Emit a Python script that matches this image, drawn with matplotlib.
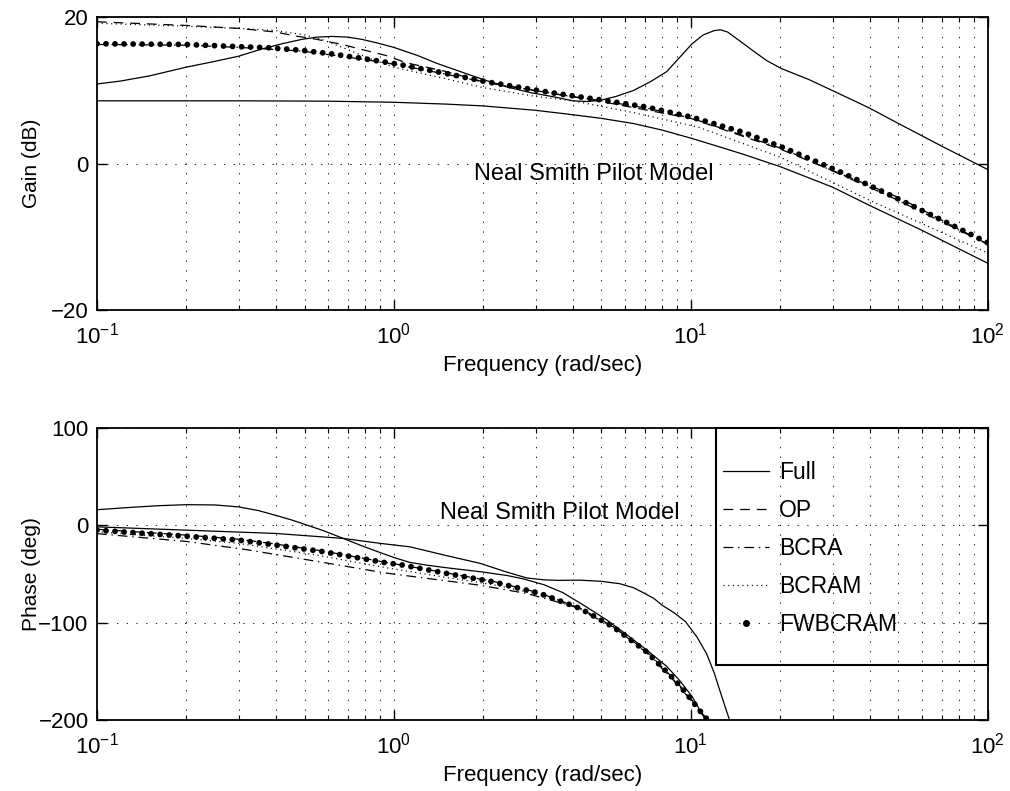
import numpy as np
import matplotlib
matplotlib.use('Agg')
import matplotlib.pyplot as plt
from matplotlib.lines import Line2D
from matplotlib.patches import Rectangle

plt.rcParams['font.family'] = ['Liberation Sans', 'DejaVu Sans']
plt.rcParams['mathtext.fontset'] = 'custom'
plt.rcParams['mathtext.rm'] = 'Liberation Sans'
plt.rcParams['mathtext.it'] = 'Liberation Sans:italic'
plt.rcParams['lines.scale_dashes'] = False

# ---- gain data (dB) ----
full_w = [0.1, 0.12, 0.15, 0.2, 0.25, 0.3, 0.36, 0.42, 0.49, 0.55, 0.62, 0.7, 0.78, 0.88,
          1.0, 1.2, 1.4, 1.7, 2.0, 2.4, 2.9, 3.5, 4.0, 4.5, 5.0, 5.6, 6.4, 7.3, 8.3, 9.2,
          10.1, 11.0, 12.0, 12.6, 13.3, 14.6, 16, 18, 20.2, 25, 30, 40, 50, 70, 100]
full_g = [10.9, 11.3, 12.0, 13.2, 14.0, 14.7, 15.7, 16.4, 17.0, 17.3, 17.4, 17.3, 17.0,
          16.5, 15.9, 14.8, 13.7, 12.5, 11.5, 10.5, 9.7, 9.1, 8.6, 8.5, 8.7, 9.2, 10.0,
          11.2, 12.6, 14.6, 16.4, 17.6, 18.2, 18.3, 18.0, 16.8, 15.6, 14.1, 13.0, 11.5,
          10.0, 7.6, 5.5, 2.4, -0.8]

full2_w = [0.1, 0.3, 0.6, 1.0, 1.5, 2.0, 3.0, 4.0, 5.0, 6.4, 8.0, 10.0, 12.5, 15, 20,
           30, 40, 60, 100]
full2_g = [8.6, 8.6, 8.55, 8.4, 8.15, 7.9, 7.3, 6.7, 6.2, 5.5, 4.6, 3.5, 2.3, 1.3, -0.4,
           -3.2, -5.7, -9.1, -13.6]

op_w = [0.1, 0.2, 0.3, 0.4, 0.46, 0.55, 0.67, 0.8, 0.94, 1.1, 1.5, 2.0, 3.0, 5.0, 10,
        20, 50, 100]
op_g = [19.4, 18.9, 18.5, 18.0, 17.5, 17.0, 16.3, 15.5, 14.8, 13.8, 12.6, 11.2, 10.0,
        8.5, 6.2, 2.0, -4.6, -11.0]

bcra_w = [0.1, 0.2, 0.3, 0.49, 0.78, 1.0, 1.43, 2.05, 3.53, 5.1, 7.1, 10.1, 20.5, 47, 100]
bcra_g = [16.3, 16.2, 15.9, 15.4, 14.3, 13.6, 12.4, 11.1, 9.5, 8.55, 7.6, 6.2, 2.0,
          -4.5, -11.0]

bcram_w = [0.1, 0.2, 0.3, 0.4, 0.5, 0.58, 0.7, 0.85, 1.0, 1.5, 2.0, 3.0, 4.0, 6.4, 10.6,
           20, 40, 100]
bcram_g = [19.2, 18.8, 18.5, 18.2, 17.6, 16.9, 15.6, 14.2, 13.2, 11.6, 10.4, 9.2, 8.6,
           7.0, 5.0, 0.9, -5.0, -12.2]

fw_w = [0.1, 0.2, 0.3, 0.38, 0.49, 0.62, 0.78, 1.0, 1.43, 2.05, 2.87, 3.53, 5.1, 7.1,
        10.1, 15, 20.5, 31, 47, 70, 100]
fw_g = [16.4, 16.3, 16.0, 15.85, 15.5, 15.0, 14.4, 13.7, 12.5, 11.2, 10.2, 9.6, 8.66,
        7.75, 6.35, 4.3, 2.2, -0.9, -4.3, -7.7, -10.8]

# ---- phase data (deg) ----
fullp_w = [0.1, 0.13, 0.16, 0.2, 0.25, 0.3, 0.35, 0.4, 0.45, 0.5, 0.58, 0.675, 0.78, 0.9,
           1.0, 1.13, 1.3, 1.5, 2.0, 2.4, 2.73, 3.2, 3.7, 4.3, 5.2, 6.0, 7.1, 8.3, 9.2,
           10.1, 11.2]
fullp_p = [16.1, 18.5, 20.2, 21.3, 21.0, 19.0, 15.2, 10.3, 5.8, 1.1, -5.5, -13.4, -21,
           -28, -33, -38, -41, -43.5, -48, -51.5, -55, -61, -69, -81, -97, -111, -128,
           -145, -160, -176, -200]

full2p_w = [0.1, 0.2, 0.4, 0.675, 0.9, 1.13, 1.5, 1.95, 2.4, 2.8, 3.2, 3.6, 4.23, 5.0,
            5.77, 6.4, 6.9, 7.5, 8.0, 8.8, 9.6, 10.5, 11.3, 12.0, 12.5, 13.0, 13.5]
full2p_p = [-1.5, -4.9, -8.3, -13.4, -18.5, -22, -31, -39, -48, -54, -56, -56.5, -56.3,
            -57.5, -60, -64, -69, -75, -82, -90, -99, -115, -132, -152, -169, -185, -200]

opp_w = [0.1, 0.2, 0.3, 0.4, 0.58, 0.94, 1.5, 2.16, 3.1, 4.23, 5.47, 7.09, 8.72, 9.7,
         10.8, 11.4]
opp_p = [-4.0, -10.0, -14.2, -19.2, -26.5, -38.0, -48.8, -57.5, -69.5, -85.0, -104,
         -129.5, -157, -173, -191.5, -200]

bcrap_w = [0.1, 0.2, 0.32, 0.55, 0.94, 1.5, 1.95, 2.8, 4.0, 5.5, 7.1, 8.7, 9.7, 10.8, 11.5]
bcrap_p = [-8.5, -16.5, -25.0, -37.0, -49.0, -57.0, -61.5, -70.0, -83.0, -104.5, -131,
           -158.5, -175, -193, -200]

bcramp_w = [0.1, 0.2, 0.3, 0.55, 0.94, 1.5, 2.16, 3.1, 4.23, 5.47, 7.09, 8.72, 9.7,
            10.8, 11.4]
bcramp_p = [-6.5, -13.5, -18.5, -30.5, -43.5, -53.5, -61.0, -71.0, -86.0, -104.5, -130,
            -157.5, -174, -192, -200]

fwp_w = [0.1, 0.2, 0.3, 0.4, 0.58, 0.94, 1.07, 1.5, 2.16, 3.1, 4.23, 5.47, 7.09, 8.72,
         9.7, 10.8, 11.4]
fwp_p = [-4.9, -11.1, -15.1, -20.2, -27.1, -38.4, -40.8, -49.3, -58, -69.9, -85.3, -104.2,
         -129.9, -157.2, -173.5, -191.6, -200]

labels = ['Full', 'OP', 'BCRA', 'BCRAM', 'FWBCRAM']

solid = dict(color='k', lw=0.9, ls='-')
dashed = dict(color='k', lw=0.9, ls=(0, (7, 5)))
dashdot = dict(color='k', lw=0.9, ls=(0, (7, 3.5, 1, 3.5)))
dotted = dict(color='k', lw=0.9, ls=(0, (0.8, 2.6)))
bigdots = dict(color='k', lw=4.2, ls=(0, (0.01, 6.5)), dash_capstyle='round')

TICK_FS = 16
LABEL_FS = 15

fig = plt.figure(figsize=(10.1, 7.91), dpi=100)
ax1 = fig.add_axes([0.096, 0.608, 0.882, 0.370])
ax2 = fig.add_axes([0.096, 0.0898, 0.882, 0.369])


def style_axes(ax, ylim, yticks, ylabel):
    ax.set_xscale('log')
    ax.set_xlim(0.1, 100)
    ax.set_ylim(*ylim)
    ax.set_yticks(yticks)
    ax.set_xticks([0.1, 1, 10, 100])
    ax.grid(True, which='both', axis='x', color='k', lw=0.6, ls=(0, (1, 6)))
    ax.grid(True, which='major', axis='y', color='k', lw=0.6, ls=(0, (1, 6)))
    ax.set_axisbelow(True)
    ax.tick_params(which='both', direction='in', top=True, right=True,
                   labelsize=TICK_FS)
    ax.tick_params(which='major', length=7, width=1)
    ax.tick_params(axis='x', which='both', pad=9)
    ax.tick_params(axis='y', which='both', pad=6)
    ax.tick_params(which='minor', length=3.5, width=0.8)
    for s in ax.spines.values():
        s.set_linewidth(1.3)
    ax.set_xlabel('Frequency (rad/sec)', fontsize=16, labelpad=5)
    ax.set_ylabel(ylabel, fontsize=LABEL_FS)
    ax.yaxis.set_label_coords(-0.063, 0.5)


# gain
ax1.plot(full_w, full_g, **solid)
ax1.plot(full2_w, full2_g, **solid)
ax1.plot(op_w, op_g, **dashed)
ax1.plot(bcram_w, bcram_g, **dotted)
ax1.plot(bcra_w, bcra_g, **dashdot)
ax1.plot(fw_w, fw_g, **bigdots)
style_axes(ax1, (-20, 20), [-20, 0, 20], 'Gain (dB)')
ax1.text(1.86, -1.4, 'Neal Smith Pilot Model', fontsize=17, ha='left', va='center')

# phase
l_full, = ax2.plot(fullp_w, fullp_p, **solid)
ax2.plot(full2p_w, full2p_p, **solid)
l_op, = ax2.plot(opp_w, opp_p, **dashed)
l_bcra, = ax2.plot(bcrap_w, bcrap_p, **dashdot)
l_bcram, = ax2.plot(bcramp_w, bcramp_p, **dotted)
ax2.plot(fwp_w, fwp_p, **bigdots)
style_axes(ax2, (-200, 100), [-200, -100, 0, 100], 'Phase (deg)')
ax2.text(1.43, 12.6, 'Neal Smith Pilot Model', fontsize=17, ha='left', va='center')

# legend (MATLAB-style transparent box)
fw_proxy = Line2D([], [], color='k', ls='none', marker='.', markersize=8)
ax2.add_patch(Rectangle((0.6947, 0.188), 0.3053, 0.812, transform=ax2.transAxes,
                        fill=False, lw=1.5, ec='k', clip_on=False, zorder=5))
ax2.legend([l_full, l_op, l_bcra, l_bcram, fw_proxy], labels, loc='upper left',
           bbox_to_anchor=(0.703, 0.888), frameon=False, borderpad=0, borderaxespad=0,
           fontsize=16.5, handlelength=2.0, handletextpad=0.45, labelspacing=0.66)

fig.savefig('out.png', dpi=100)
